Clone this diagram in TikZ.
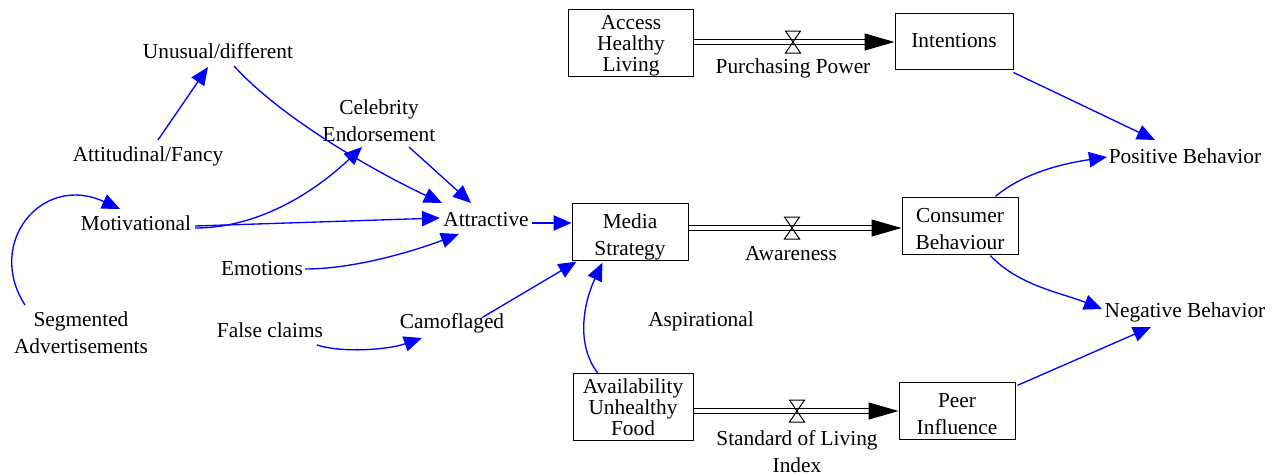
\documentclass[tikz,border=0pt]{standalone}
\usepackage{fontspec}
\setmainfont{Liberation Serif}
\usetikzlibrary{arrows.meta,calc}
\definecolor{linkblue}{RGB}{0,0,255}
\begin{document}
\begin{tikzpicture}[x=0.75pt,y=-0.75pt,
  stock/.style={draw, line width=0.75pt, inner sep=0pt, align=center,
    font=\fontsize{16pt}{20.25pt}\selectfont, text height=38.75pt, text depth=3.5pt},
  stockone/.style={draw, line width=0.75pt, inner sep=0pt, align=center,
    font=\fontsize{16pt}{20.25pt}\selectfont},
  stockthree/.style={stock, font=\fontsize{16pt}{15.75pt}\selectfont,
    text height=46.5pt, text depth=3.5pt},
  var/.style={inner sep=0pt, align=center, font=\fontsize{16pt}{20.25pt}\selectfont},
  link/.style={linkblue, line width=1pt, -{Triangle[length=13.5pt,width=11.5pt]}},
  pipe/.style={double, double distance=3pt, line width=0.75pt},
  flowhead/.style={line width=0.75pt, -{Triangle[length=22.5pt,width=12.75pt]}},
  valve/.pic={\draw[line width=0.75pt] (-7.5,-11) -- (7.5,-11) -- (-7.5,11) -- (7.5,11) -- cycle;}
]
\useasboundingbox (0,0) rectangle (1285,475);

% stocks
\node[stockthree, minimum width=93.75pt, minimum height=50.25pt] (acc) at (631,43) {Access\\Healthy\\Living};
\node[stockone, minimum width=88.5pt, minimum height=42pt] (int) at (954,41) {Intentions};
\node[stock, minimum width=87pt, minimum height=42pt] (med) at (630,232) {Media\\Strategy};
\node[stock, minimum width=87pt, minimum height=42pt] (con) at (960,226) {Consumer\\Behaviour};
\node[stockthree, minimum width=90pt, minimum height=50.25pt] (ava) at (633,407) {Availability\\Unhealthy\\Food};
\node[stock, minimum width=87pt, minimum height=42pt] (peer) at (957,411) {Peer\\Influence};

% auxiliary variables
\node[var] (unu) at (218,51) {Unusual/different};
\node[var] (att) at (148,156) {Attitudinal/Fancy};
\node[var] (cel) at (379,121) {Celebrity\\Endorsement};
\node[var] (mot) at (136,223) {Motivational};
\node[var] (attr) at (486,220) {Attractive};
\node[var] (emo) at (262,269) {Emotions};
\node[var] (seg) at (81,333) {Segmented\\Advertisements};
\node[var] (fal) at (270,330) {False claims};
\node[var] (cam) at (452,323) {Camoflaged};
\node[var] (asp) at (701,321) {Aspirational};
\node[var] (pos) at (1185,156) {Positive Behavior};
\node[var] (neg) at (1185,312) {Negative Behavior};

% flows
\coordinate (v1) at (793,42);
\coordinate (v2) at (792,228);
\coordinate (v3) at (797,411);
\draw[pipe] (v1 -| acc.east) -- ($(v1 -| int.west)+(-27,0)$);
\draw[flowhead] ($(v1 -| int.west)+(-30,0)$) -- (v1 -| int.west);
\pic at (v1) {valve};
\draw[pipe] (v2 -| med.east) -- ($(v2 -| con.west)+(-27,0)$);
\draw[flowhead] ($(v2 -| con.west)+(-30,0)$) -- (v2 -| con.west);
\pic at (v2) {valve};
\draw[pipe] (v3 -| ava.east) -- ($(v3 -| peer.west)+(-27,0)$);
\draw[flowhead] ($(v3 -| peer.west)+(-30,0)$) -- (v3 -| peer.west);
\pic at (v3) {valve};
\node[var] (pp) at (793,68) {Purchasing Power};
\node[var] (aw) at (791,254) {Awareness};
\node[var] (sol) at (797,452) {Standard of Living\\Index};

% causal links
\draw[link] ($(att)+(10,-16)$) -- ($(unu)+(-10,16)$);
\draw[link] ($(unu)+(16,15)$) .. controls +(50,55) and +(-60,-28) .. ($(attr)+(-44,-17)$);
\draw[link] ($(cel)+(30,26)$) -- ($(attr)+(-15,-17)$);
\draw[link] ($(mot)+(59,5)$) .. controls +(70,0) and +(-40,38) .. ($(cel)+(-17,26)$);
\draw[link] ($(mot)+(59,3)$) -- ($(attr)+(-46,-2)$);
\draw[link] ($(emo)+(43,0)$) .. controls +(50,0) and +(-45,17) .. ($(attr)+(-27,14)$);
\draw[link] ($(seg)+(-56,-28)$) .. controls +(-40,-62) and +(-78,-36) .. ($(mot)+(-16,-14)$);
\draw[link] ($(fal)+(47,15)$) .. controls +(25,8) and +(-35,12) .. ($(cam)+(-30,15)$);
\draw[link] ($(cam)+(31,-6)$) -- ($(med.south west)+(5,1)$);
\draw[link] ($(attr)+(46,3)$) -- ($(attr -| med.west)+(0,3)$);
\draw[link] ($(ava.north west)+(26,1)$) .. controls +(-24,-30) and +(-18,38) .. ($(med.south west)+(31,2)$);
\draw[link] ($(con.north east)+(-23,-1)$) .. controls +(30,-25) and +(-40,6) .. ($(pos)+(-78,1)$);
\draw[link] ($(con.south east)+(-28,1)$) .. controls +(28,30) and +(-40,-16) .. ($(neg)+(-83,-3)$);
\draw[link] ($(int.south east)+(0,3)$) -- ($(pos)+(-30,-16)$);
\draw[link] ($(peer.north east)+(2,3)$) -- ($(neg)+(-34,15)$);
\end{tikzpicture}
\end{document}
